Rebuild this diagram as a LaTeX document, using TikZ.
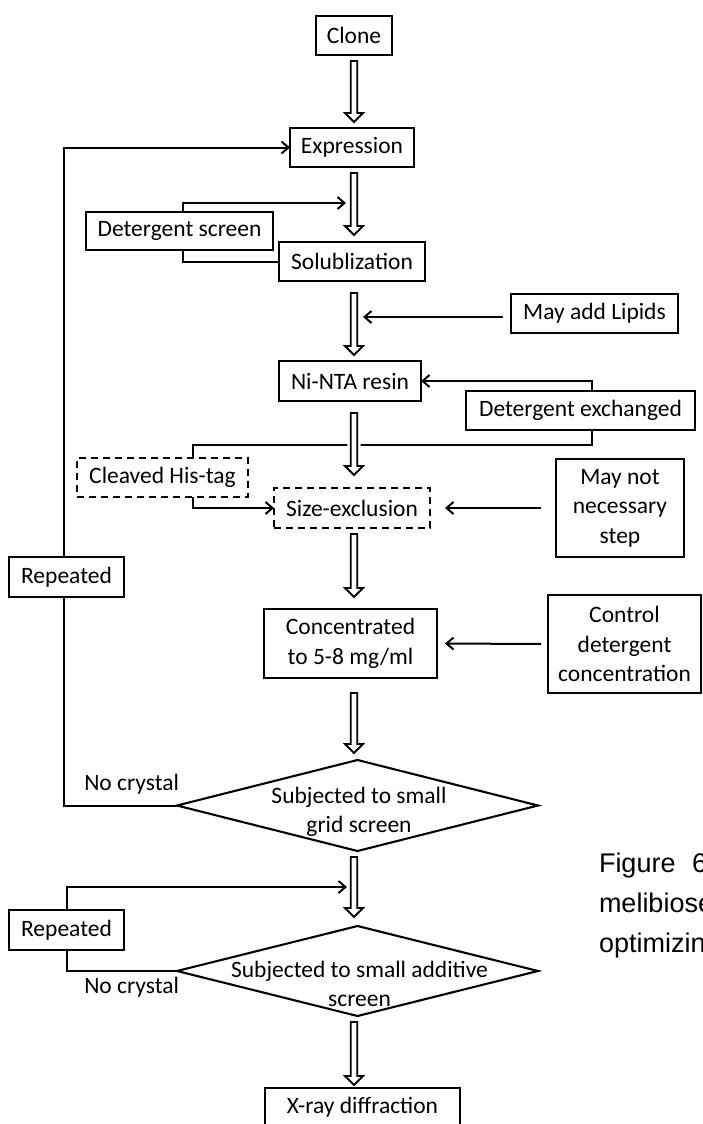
\documentclass[tikz,border=0pt]{standalone}
\usepackage{fontspec}
\setmainfont{Carlito}
\newfontfamily\capfont{Liberation Sans}
\usetikzlibrary{arrows.meta,calc,shapes.geometric}

% hollow block arrow between two stacked nodes:
% #1 extra style, #2 upper node, #3 lower node, #4 gap below #2, #5 gap above #3
\newcommand\hollowarrow[5][]{%
  \draw[hollow,#1] let \p1=(#2.south), \p2=(#3.north), \p3=(col) in
    (\x3-3.2pt,\y1-#4pt) -- (\x3-3.2pt,\y2+#5pt+9pt) -- (\x3-9pt,\y2+#5pt+9pt)
    -- (\x3,\y2+#5pt) -- (\x3+9pt,\y2+#5pt+9pt) -- (\x3+3.2pt,\y2+#5pt+9pt)
    -- (\x3+3.2pt,\y1-#4pt) -- cycle;}

\begin{document}
\begin{tikzpicture}[x=1pt,y=-1pt,
  every node/.style={inner sep=0pt, outer sep=0pt},
  lbl/.style={font=\fontsize{23.5}{29.5}\selectfont},
  box/.style={lbl, draw, line width=2.1pt, fill=white, align=center},
  dbox/.style={box, dash pattern=on 7pt off 5pt},
  decision/.style={draw, line width=2.1pt, fill=white, shape=diamond},
  conn/.style={line width=2pt},
  tip/.style={conn, -{Straight Barb[length=7pt,width=12pt]}},
  hollow/.style={draw, line width=1.8pt, fill=white, line join=miter},
  halo/.style={preaction={draw=white, line width=7pt}},
  captext/.style={anchor=base west, font=\capfont\fontsize{27}{40}\selectfont},
]
\useasboundingbox (0,0) rectangle (702,1124);
\clip (0,0) rectangle (702,1124);
\fill[white] (0,0) rectangle (702,1124);

% main column and routing points
\coordinate (col) at (354,0);
\coordinate (loopA) at (64,0);
\coordinate (loopB) at (67,0);
\coordinate (dsx) at (183,0);
\coordinate (dex) at (592,0);
\coordinate (split) at (193,445);
\coordinate (join1) at (346,203);
\coordinate (join2) at (347,887);
\coordinate (join3) at (363,317);

% process steps
\node[box, minimum width=76pt, minimum height=39pt] (clone) at (354,35.5) {Clone};
\node[box, minimum width=124pt, minimum height=39pt] (expr) at (352,147.5) {Expression};
\node[box, minimum width=187pt, minimum height=38pt] (detscr) at (179.5,231) {Detergent screen};
\node[box, minimum width=146pt, minimum height=39pt] (solub) at (352,261.5) {Solublization};
\node[box, minimum width=167pt, minimum height=39pt] (lipids) at (594.5,313.5) {May add Lipids};
\node[box, minimum width=142pt, minimum height=40pt] (ninta) at (350,381) {Ni-NTA resin};
\node[box, minimum width=229pt, minimum height=39pt] (detex) at (580.5,410.5) {Detergent exchanged};
\node[dbox, minimum width=171pt, minimum height=39pt] (cleaved) at (162.5,477.5) {Cleaved His-tag};
\node[dbox, minimum width=156pt, minimum height=40pt] (sizeex) at (352,508) {Size-exclusion};
\node[box, minimum width=128pt, minimum height=98pt] (maynot) at (620,508) {May not\\necessary\\step};
\node[box, minimum width=115pt, minimum height=40pt] (rep1) at (66.5,577) {Repeated};
\node[box, minimum width=173pt, minimum height=69pt] (conc) at (350.5,643.5) {Concentrated\\to 5-8 mg/ml};
\node[box, minimum width=153pt, minimum height=98pt] (control) at (624.5,644) {Control\\detergent\\concentration};
\node[decision, minimum width=361pt, minimum height=91pt] (d1) at (357.5,805.5) {};
\node[lbl, anchor=base] (d1t) at (359,803)
  {\begin{tabular}[t]{@{}c@{}}Subjected to small\\grid screen\end{tabular}};
\node[box, minimum width=115pt, minimum height=40pt] (rep2) at (66.5,930) {Repeated};
\node[decision, minimum width=361pt, minimum height=90pt] (d2) at (357.5,971) {};
\node[lbl, anchor=base] (d2t) at (359.5,977)
  {\begin{tabular}[t]{@{}c@{}}Subjected to small additive\\screen\end{tabular}};
\node[box, minimum width=195pt, minimum height=39pt] (xray) at (362.5,1107.5) {X-ray diffraction};

% branch labels
\node[lbl, anchor=base east] (nc1) at (179,790) {No crystal};
\node[lbl, anchor=base east] (nc2) at (179,993) {No crystal};

% loop back from the grid screen to expression
\draw[conn] (d1.west) -| (rep1.south -| loopA);
\draw[tip] (rep1.north -| loopA) |- (expr.west);
% loop back from the additive screen
\draw[conn] (d2.west) -| (rep2.south -| loopB);
\draw[tip] (rep2.north -| loopB) |- (join2);
% detergent screen loop
\draw[tip] (detscr.north -| dsx) |- (join1);
\draw[conn] (detscr.south -| dsx) |- (solub.west);
% side inputs
\draw[tip, shorten <=8pt] (lipids.west |- join3) -- (join3);
\draw[tip] (detex.north -| dex) |- (ninta.east);
\draw[conn] (detex.south -| dex) |- (split) -- (cleaved.north -| split);
\draw[tip] (cleaved.south -| split) |- (sizeex.west);
\draw[tip, shorten <=15pt, shorten >=15pt] (maynot.west) -- (sizeex.east);
\draw[tip, shorten <=7pt, shorten >=8pt] (control.west) -- (conc.east);

% main flow
\hollowarrow{clone}{expr}{6}{6}
\hollowarrow{expr}{solub}{6}{7}
\hollowarrow{solub}{ninta}{12}{6}
\hollowarrow[halo]{ninta}{sizeex}{12}{13}
\hollowarrow{sizeex}{conc}{6}{12}
\hollowarrow{conc}{d1}{15}{7}
\hollowarrow{d1}{d2}{6}{9}
\hollowarrow{d2}{xray}{6}{3}

% caption, running off the right edge
\node[captext] (cap1) at (599,872) {Figure\hspace{16.5pt}6};
\node[captext] (cap2) at (599,912) {melibiose};
\node[captext] (cap3) at (599,952) {optimizin};
\end{tikzpicture}
\end{document}
